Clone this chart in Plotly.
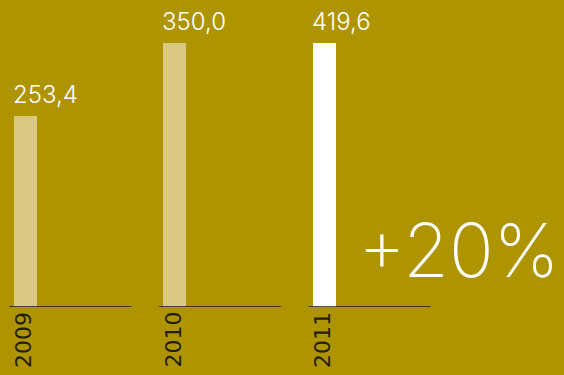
import plotly.graph_objects as go

# Revenue by year
years = ["2009", "2010", "2011"]
values = [253.4, 350.0, 419.6]
value_labels = ["253,4", "350,0", "419,6"]
growth_label = "+20%"

BG = "#AD9400"
BAR_COLORS = ["#D9C880", "#D9C880", "#FFFFFF"]
INK = "#231E00"
Y_TOP = 350  # axis ceiling; taller bars are clipped at the top

W, H = 564, 375
STEP = 149.5   # pixels between year slots
X0 = 13.5      # left edge of the first bar
idx = list(range(len(years)))

fig = go.Figure()
fig.add_trace(go.Bar(
    x=idx, y=values, width=23 / STEP, offset=0,
    marker=dict(color=BAR_COLORS, line=dict(width=0)),
    hoverinfo="skip",
))

shapes = []
annotations = []
for i, (yr, v, lab) in enumerate(zip(years, values, value_labels)):
    # baseline rule under each bar
    shapes.append(dict(type="line", xref="x", yref="y",
                       x0=i - 4 / STEP, x1=i + 118 / STEP, y0=0, y1=0,
                       line=dict(color="#1A1600", width=1.5), layer="above"))
    # value label above the bar
    annotations.append(dict(x=i, y=min(v, Y_TOP), xref="x", yref="y",
                            text=lab, showarrow=False, xanchor="left",
                            yanchor="bottom", yshift=5, xshift=-3,
                            font=dict(family="Inter", size=24,
                                      color="#FFFFFF", weight=300)))
    # rotated year label below the baseline
    annotations.append(dict(x=i, y=0, xref="x", yref="y",
                            text=yr, showarrow=False, textangle=-90,
                            xanchor="left", yanchor="top", yshift=-3,
                            xshift=-5,
                            font=dict(family="DejaVu Sans", size=22,
                                      color=INK)))

annotations.append(dict(x=562 / W, y=1 - 361 / H, xref="paper", yref="paper",
                        text=growth_label, showarrow=False,
                        xanchor="right", yanchor="bottom",
                        font=dict(family="Inter", size=74,
                                  color="#FFFFFF", weight=200)))

fig.update_layout(
    width=W, height=H,
    margin=dict(l=0, r=0, t=43, b=68),
    paper_bgcolor=BG, plot_bgcolor=BG,
    showlegend=False,
    bargap=0,
    xaxis=dict(range=[-X0 / STEP, (W - X0) / STEP], visible=False, fixedrange=True),
    yaxis=dict(range=[0, Y_TOP], visible=False, fixedrange=True),
    shapes=shapes,
    annotations=annotations,
)

fig.write_html("out.html")
